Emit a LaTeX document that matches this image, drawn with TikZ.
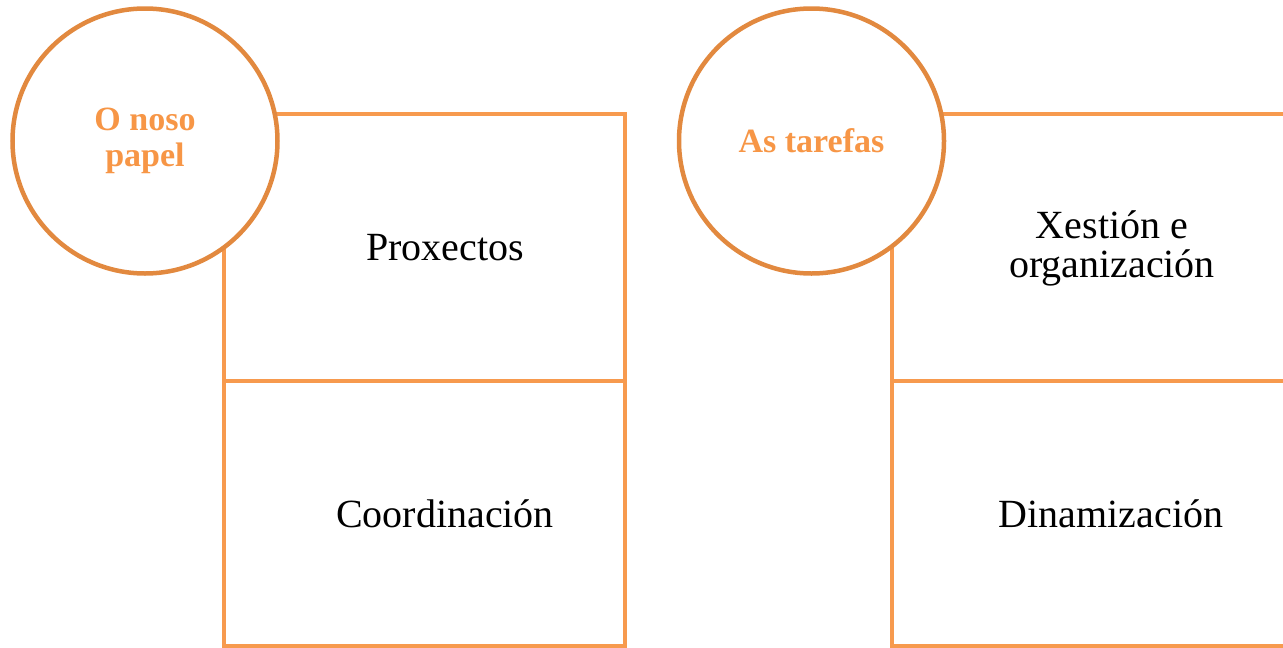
\documentclass[tikz,border=0pt]{standalone}
\usepackage{fontspec}
\setmainfont{Liberation Serif}
\definecolor{boxline}{HTML}{F79A4E}
\definecolor{circline}{HTML}{E2893F}
\definecolor{circtext}{HTML}{F79646}
\begin{document}
\begin{tikzpicture}[x=1pt,y=-1pt,
  box/.style={draw=boxline,line width=4pt,minimum width=401pt,inner sep=0pt},
  circ/.style={circle,draw=circline,line width=4.5pt,fill=white,minimum size=265pt,inner sep=0pt,
    align=center,text=circtext,font=\fontsize{34}{36}\selectfont\bfseries},
  lbl/.style={align=center,text=black,font=\fontsize{40}{39}\selectfont,inner sep=0pt}]
\useasboundingbox (0,0) rectangle (1283,648);
% left panel
\node[box,minimum height=267pt] (p1) at (424.5,247.5) {};
\node[box,minimum height=265pt] (p2) at (424.5,513.5) {};
\node[lbl] (t1) at (445,247.5) {Proxectos};
\node[lbl] (t2) at (445,513.5) {Coordinación};
\node[circ] (c1) at (145,141) {O noso\\papel};
% right panel
\node[box,minimum height=267pt] (q1) at (1092.5,247.5) {};
\node[box,minimum height=265pt] (q2) at (1092.5,513.5) {};
\node[lbl] (u1) at (1112,248) {Xestión e\\organización};
\node[lbl] (u2) at (1111,513.5) {Dinamización};
\node[circ] (c2) at (811.5,141) {As tarefas};
\end{tikzpicture}
\end{document}
